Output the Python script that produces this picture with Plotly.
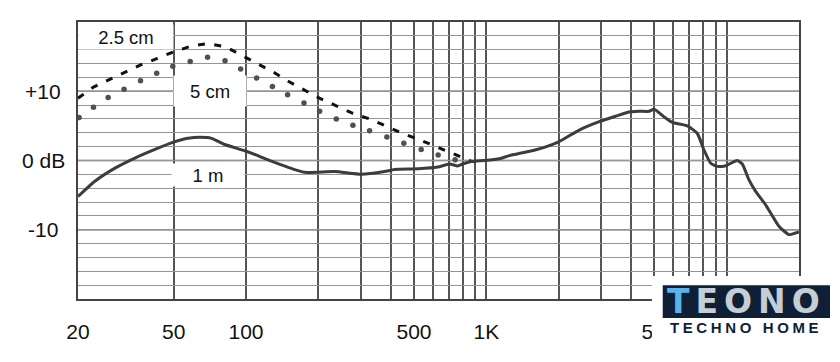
import math
import plotly.graph_objects as go

# ---------------- data ----------------
# 1 m response (solid)
f_1m = [20, 23.5, 28.5, 34.5, 41.8, 50, 57.4, 64.3, 71.9, 81, 101, 123.5, 149, 175, 234, 302,
        377, 415, 519, 628, 702, 760, 797, 865, 982, 1133, 1247, 1609, 2000, 2436, 2950,
        3460, 3930, 4323, 4757, 4990, 5490, 5946, 6865, 7553, 8053, 8585, 9150, 9913,
        11073, 11616, 12385, 13200, 14530, 16500, 18160, 19660, 20000]
db_1m = [-5.2, -3.0, -1.1, 0.35, 1.6, 2.65, 3.2, 3.35, 3.2, 2.35, 1.3, 0.1, -0.95, -1.7, -1.6, -2.0,
         -1.6, -1.3, -1.2, -0.95, -0.5, -0.8, -0.5, -0.15, 0.0, 0.25, 0.7, 1.55, 2.7, 4.4, 5.6,
         6.4, 7.0, 7.1, 7.1, 7.4, 6.3, 5.5, 5.0, 3.9, 1.5, -0.4, -0.85, -0.75,
         0.0, -0.5, -2.8, -4.45, -6.4, -9.5, -10.7, -10.4, -10.3]

# 2.5 cm response (dashed)
f_25 = [20, 23.2, 26.7, 31.1, 36.4, 42.5, 50, 59, 69.6, 82.4, 95.6, 111.6, 129.5, 149,
        175.4, 202, 237.6, 278.5, 326.8, 383.4, 449.6, 527.4, 618.6, 725, 865, 900]
db_25 = [9.0, 10.6, 11.6, 12.7, 13.8, 14.7, 15.7, 16.5, 16.9, 16.4, 15.2, 13.9, 12.8, 11.5,
         10.2, 9.0, 7.9, 6.8, 6.0, 4.9, 3.9, 3.0, 2.0, 1.1, -0.1, -0.2]

# 5 cm response (dotted)
f_5 = [20.2, 23.2, 26.7, 31.1, 36.4, 42.5, 49.6, 58.6, 69.2, 81.8, 95, 110.7, 128.8, 149,
       174.3, 202.5, 237.6, 278.5, 326.8, 385.6, 453.6, 535.8, 630.3, 741.8]
db_5 = [6.2, 7.7, 9.1, 10.3, 11.5, 12.6, 13.6, 14.3, 14.9, 14.4, 13.2, 11.9, 10.7, 9.5,
        8.3, 7.1, 6.0, 5.1, 4.3, 3.4, 2.5, 1.6, 0.8, 0.1]

# axis ticks / gridlines
x_grid = [20, 50, 100, 200, 300, 400, 500, 600, 700, 800, 900, 1000,
          2000, 3000, 4000, 5000, 6000, 7000, 8000, 9000, 10000, 20000]
x_labels = {20: "20", 50: "50", 100: "100", 500: "500", 1000: "1K", 5000: "5K"}
y_labels = [(10, "+10"), (0, "0 dB"), (-10, "-10")]
curve_labels = [("2.5 cm", 31.7, 17.8, 94, 24), ("5 cm", 70.8, 10.0, 72, 30), ("1 m", 69.4, -2.1, 72, 22)]

FONT = "Liberation Sans, Arial, sans-serif"

fig = go.Figure()
fig.add_trace(go.Scatter(x=f_25, y=db_25, mode="lines",
                         line=dict(color="#111111", width=3, dash="7px,9.5px"), hoverinfo="skip"))
fig.add_trace(go.Scatter(x=f_5, y=db_5, mode="markers",
                         marker=dict(color="#505050", size=5.5), hoverinfo="skip"))
fig.add_trace(go.Scatter(x=f_1m, y=db_1m, mode="lines",
                         line=dict(color="#3c3c3c", width=3, shape="spline", smoothing=0.5),
                         hoverinfo="skip"))

# darker horizontal lines at -10, 0, +10
for v in (-10, 0, 10):
    fig.add_shape(type="line", xref="paper", yref="y", x0=0, x1=1, y0=v, y1=v,
                  line=dict(color="#5a5a5a", width=1.6), layer="below")

# y labels (centered)
for v, t in y_labels:
    fig.add_annotation(x=-0.0485, xref="paper", y=v, yref="y", text=t, showarrow=False,
                       xanchor="center", yanchor="middle",
                       font=dict(family=FONT, size=21, color="#111111"))

# curve labels with white boxes
for t, fx, yv, w, h in curve_labels:
    fig.add_annotation(x=math.log10(fx), y=yv, xref="x", yref="y", text=t, showarrow=False,
                       bgcolor="white", width=w, height=h, borderpad=0,
                       font=dict(family=FONT, size=18.5, color="#111111"))

# logo (watermark) box
fig.add_shape(type="rect", xref="paper", yref="paper", x0=0.796, x1=1.06, y0=-0.23, y1=0.083,
              fillcolor="white", line=dict(width=0), layer="above")
fig.add_shape(type="rect", xref="paper", yref="paper", x0=0.811, x1=1.043, y0=-0.0686, y1=0.05,
              fillcolor="#0f1f36", line=dict(width=0), layer="above")
fig.add_annotation(x=0.927, y=-0.009, xref="paper", yref="paper", showarrow=False,
                   text="<span style='letter-spacing:6px'><span style='color:#5ab4e6'>T</span>EONO</span>",
                   font=dict(family="DejaVu Sans", size=33, color="#c4ced6", weight="bold"),
                   xanchor="center", yanchor="middle")
fig.add_annotation(x=0.927, y=-0.103, xref="paper", yref="paper", showarrow=False,
                   text="<span style='letter-spacing:3.6px'>TECHNO HOME</span>",
                   font=dict(family="Liberation Sans", size=15, color="#0f1f36", weight="bold"),
                   xanchor="center", yanchor="middle")

fig.update_xaxes(type="log", range=[1.30103, 4.30103],
                 tickmode="array", tickvals=x_grid,
                 ticktext=[x_labels.get(v, "") for v in x_grid],
                 showgrid=True, gridcolor="#555555", gridwidth=1.5,
                 showline=True, mirror=True, linecolor="#444444", linewidth=1.5,
                 ticks="", ticklabelstandoff=13,
                 tickfont=dict(family=FONT, size=21, color="#111111"), zeroline=False)
fig.update_yaxes(range=[-20, 20], dtick=2, tick0=0, showgrid=True, gridcolor="#959595",
                 gridwidth=1.2, showticklabels=False, zeroline=False,
                 showline=True, mirror=True, linecolor="#444444", linewidth=1.5)

fig.update_layout(width=840, height=362, margin=dict(l=78, r=41, t=22, b=63),
                  plot_bgcolor="white", paper_bgcolor="white", showlegend=False)

fig.write_html("out.html")
